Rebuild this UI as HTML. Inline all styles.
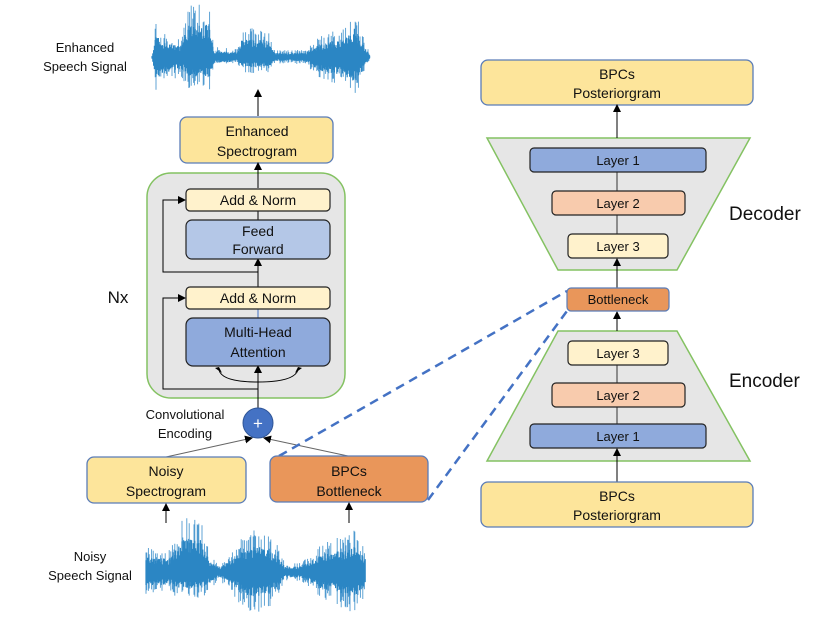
<!DOCTYPE html>
<html><head><meta charset="utf-8"><style>
html,body{margin:0;padding:0;background:#fff;}
svg{display:block;}
text{font-family:"Liberation Sans",sans-serif;fill:#111;}
</style></head><body>
<svg id="s" width="830" height="623" viewBox="0 0 830 623" xmlns="http://www.w3.org/2000/svg">
<defs>
<marker id="a" markerWidth="8" markerHeight="8" refX="7" refY="4" orient="auto" markerUnits="userSpaceOnUse">
<path d="M0,0 L8,4 L0,8 z" fill="#000"/></marker>
</defs>
<g id="waves"></g>
<text x="85" y="52" font-size="13" text-anchor="middle">Enhanced</text>
<text x="85" y="71" font-size="13" text-anchor="middle">Speech Signal</text>
<text x="90" y="561" font-size="13" text-anchor="middle">Noisy</text>
<text x="90" y="580" font-size="13" text-anchor="middle">Speech Signal</text>

<line x1="258" y1="116" x2="258" y2="90" stroke="#000" stroke-width="1" marker-end="url(#a)"/>
<rect x="180" y="117" width="153" height="46" rx="7" fill="#fde59b" stroke="#5a7cb8" stroke-width="1.3"/>
<text x="257" y="136" font-size="14" text-anchor="middle">Enhanced</text>
<text x="257" y="156" font-size="14" text-anchor="middle">Spectrogram</text>

<rect x="147" y="173" width="198" height="225" rx="24" fill="#e6e6e6" stroke="#84c262" stroke-width="1.5"/>
<line x1="258" y1="188" x2="258" y2="163" stroke="#000" marker-end="url(#a)"/>
<line x1="258" y1="411" x2="258" y2="366" stroke="#000" marker-end="url(#a)"/>
<line x1="258" y1="318" x2="258" y2="309" stroke="#4472c4"/>
<line x1="258" y1="287" x2="258" y2="259" stroke="#000" marker-end="url(#a)"/>
<line x1="258" y1="220" x2="258" y2="211" stroke="#000"/>
<polyline points="258,389 163,389 163,298 185,298" fill="none" stroke="#000" marker-end="url(#a)"/>
<polyline points="258,272 163,272 163,200 185,200" fill="none" stroke="#000" marker-end="url(#a)"/>
<path d="M219,370 Q222,382 258,382 Q294,382 298,370" fill="none" stroke="#000"/>
<path d="M215,368 l4,-1 l3,6 z" fill="#000"/>
<path d="M302,368 l-4,-1 l-3,6 z" fill="#000"/>

<rect x="186" y="189" width="144" height="22" rx="4" fill="#fff2cc" stroke="#222" stroke-width="1.2"/>
<text x="258" y="205" font-size="14" text-anchor="middle">Add &amp; Norm</text>
<rect x="186" y="220" width="144" height="39" rx="6" fill="#b4c7e7" stroke="#222" stroke-width="1.2"/>
<text x="258" y="236" font-size="14" text-anchor="middle">Feed</text>
<text x="258" y="254" font-size="14" text-anchor="middle">Forward</text>
<rect x="186" y="287" width="144" height="22" rx="4" fill="#fff2cc" stroke="#222" stroke-width="1.2"/>
<text x="258" y="303" font-size="14" text-anchor="middle">Add &amp; Norm</text>
<rect x="186" y="318" width="144" height="48" rx="7" fill="#8faadc" stroke="#222" stroke-width="1.2"/>
<text x="258" y="337" font-size="14" text-anchor="middle">Multi-Head</text>
<text x="258" y="357" font-size="14" text-anchor="middle">Attention</text>
<text x="118" y="303" font-size="17" text-anchor="middle">Nx</text>

<text x="185" y="419" font-size="13" text-anchor="middle">Convolutional</text>
<text x="185" y="438" font-size="13" text-anchor="middle">Encoding</text>
<line x1="166" y1="457" x2="252" y2="438" stroke="#666" marker-end="url(#a)"/>
<line x1="348" y1="456" x2="264" y2="438" stroke="#666" marker-end="url(#a)"/>
<circle cx="258" cy="423" r="15" fill="#4472c4" stroke="#2f5597"/>
<text x="258" y="429" font-size="17" text-anchor="middle" style="fill:#fff">+</text>

<line x1="279" y1="456" x2="567" y2="291" stroke="#4472c4" stroke-width="2.5" stroke-dasharray="9,6"/>
<line x1="428" y1="500" x2="567" y2="311" stroke="#4472c4" stroke-width="2.5" stroke-dasharray="9,6"/>

<rect x="87" y="457" width="159" height="46" rx="7" fill="#fde59b" stroke="#5a7cb8" stroke-width="1.3"/>
<text x="166" y="476" font-size="14" text-anchor="middle">Noisy</text>
<text x="166" y="496" font-size="14" text-anchor="middle">Spectrogram</text>
<rect x="270" y="456" width="158" height="46" rx="7" fill="#e9965a" stroke="#5a7cb8" stroke-width="1.3"/>
<text x="349" y="476" font-size="14" text-anchor="middle">BPCs</text>
<text x="349" y="496" font-size="14" text-anchor="middle">Bottleneck</text>
<line x1="166" y1="523" x2="166" y2="504" stroke="#000" marker-end="url(#a)"/>
<line x1="349" y1="523" x2="349" y2="503" stroke="#000" marker-end="url(#a)"/>

<rect x="481" y="60" width="272" height="45" rx="7" fill="#fde59b" stroke="#5a7cb8" stroke-width="1.3"/>
<text x="617" y="79" font-size="14" text-anchor="middle">BPCs</text>
<text x="617" y="98" font-size="14" text-anchor="middle">Posteriorgram</text>
<polygon points="487,138 750,138 677,270 558,270" fill="#e6e6e6" stroke="#84c262" stroke-width="1.5"/>
<polygon points="558,331 677,331 750,461 487,461" fill="#e6e6e6" stroke="#84c262" stroke-width="1.5"/>
<line x1="617" y1="138" x2="617" y2="105" stroke="#000" marker-end="url(#a)"/>
<line x1="617" y1="258" x2="617" y2="148" stroke="#333"/>
<line x1="617" y1="288" x2="617" y2="259" stroke="#000" marker-end="url(#a)"/>
<line x1="617" y1="331" x2="617" y2="312" stroke="#000" marker-end="url(#a)"/>
<line x1="617" y1="448" x2="617" y2="341" stroke="#333"/>
<line x1="617" y1="482" x2="617" y2="449" stroke="#000" marker-end="url(#a)"/>

<rect x="530" y="148" width="176" height="24" rx="4" fill="#8faadc" stroke="#222" stroke-width="1.2"/>
<text x="618" y="165" font-size="13" text-anchor="middle">Layer 1</text>
<rect x="552" y="191" width="133" height="24" rx="4" fill="#f8cbad" stroke="#222" stroke-width="1.2"/>
<text x="618" y="208" font-size="13" text-anchor="middle">Layer 2</text>
<rect x="568" y="234" width="100" height="24" rx="4" fill="#fff2cc" stroke="#222" stroke-width="1.2"/>
<text x="618" y="251" font-size="13" text-anchor="middle">Layer 3</text>

<rect x="567" y="288" width="102" height="23" rx="4" fill="#e9965a" stroke="#5a7cb8" stroke-width="1.2"/>
<text x="618" y="304" font-size="13" text-anchor="middle">Bottleneck</text>

<rect x="568" y="341" width="100" height="24" rx="4" fill="#fff2cc" stroke="#222" stroke-width="1.2"/>
<text x="618" y="358" font-size="13" text-anchor="middle">Layer 3</text>
<rect x="552" y="383" width="133" height="24" rx="4" fill="#f8cbad" stroke="#222" stroke-width="1.2"/>
<text x="618" y="400" font-size="13" text-anchor="middle">Layer 2</text>
<rect x="530" y="424" width="176" height="24" rx="4" fill="#8faadc" stroke="#222" stroke-width="1.2"/>
<text x="618" y="441" font-size="13" text-anchor="middle">Layer 1</text>

<rect x="481" y="482" width="272" height="45" rx="7" fill="#fde59b" stroke="#5a7cb8" stroke-width="1.3"/>
<text x="617" y="501" font-size="14" text-anchor="middle">BPCs</text>
<text x="617" y="520" font-size="14" text-anchor="middle">Posteriorgram</text>

<text x="729" y="220" font-size="19">Decoder</text>
<text x="729" y="387" font-size="19">Encoder</text>
</svg>
<script>
(function(){
var g=document.getElementById('waves');
var seed=7;function r(){seed=(seed*16807)%2147483647;return seed/2147483647;}
function interp(k,x){for(var i=0;i<k.length-1;i++){if(x>=k[i][0]&&x<=k[i+1][0]){var t=(x-k[i][0])/(k[i+1][0]-k[i][0]);return [k[i][1]+(k[i+1][1]-k[i][1])*t,k[i][2]+(k[i+1][2]-k[i][2])*t];}}return [0,0];}
function wave(x0,x1,cy,k,col){
var core='',spk='';
for(var x=x0;x<=x1;x+=0.8){var e=interp(k,x);
var u=e[0]*(0.55+0.45*r()),l=e[1]*(0.55+0.45*r());
core+='M'+x.toFixed(1)+','+(cy-u*0.6).toFixed(1)+'V'+(cy+l*0.6).toFixed(1);
if(r()<0.45){spk+='M'+x.toFixed(1)+','+(cy-u).toFixed(1)+'V'+(cy+l).toFixed(1);}}
[[spk,'#4f9ad0',0.9],[core,'#2b86c4',1.2]].forEach(function(q){
var p=document.createElementNS('http://www.w3.org/2000/svg','path');p.setAttribute('d',q[0]);p.setAttribute('stroke',q[1]);p.setAttribute('stroke-width',q[2]);p.setAttribute('fill','none');g.appendChild(p);});}
wave(152,370,57,[[152,2,2],[156,38,38],[162,25,30],[180,18,18],[188,52,32],[210,55,33],[214,10,10],[238,8,8],[242,30,17],[270,28,15],[274,7,7],[305,7,7],[318,20,22],[345,30,32],[355,50,42],[366,14,14],[370,2,2]]);
wave(146,366,572,[[146,25,22],[170,22,22],[182,55,28],[200,55,28],[210,18,18],[220,8,8],[240,32,32],[255,45,45],[275,32,32],[285,9,9],[300,9,9],[320,27,27],[355,42,42],[366,22,22]]);
})();
</script>
</body></html>
